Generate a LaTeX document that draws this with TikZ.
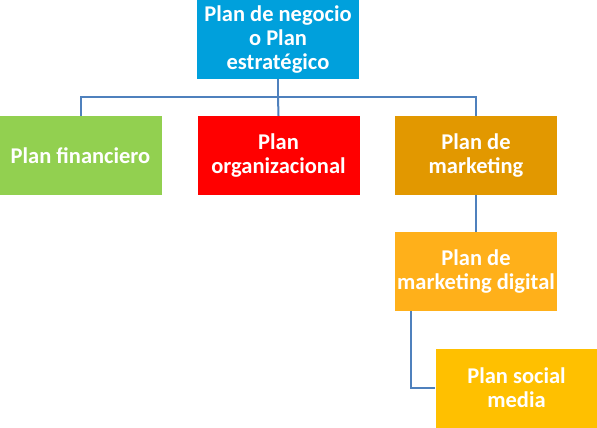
\documentclass[tikz,border=0pt]{standalone}
\usepackage{fontspec}
\setmainfont{Carlito}
\definecolor{topblue}{RGB}{0,160,220}
\definecolor{fingreen}{RGB}{146,208,80}
\definecolor{mktorange}{RGB}{226,152,0}
\definecolor{digorange}{RGB}{255,176,26}
\definecolor{socyellow}{RGB}{255,192,0}
\definecolor{linkblue}{RGB}{79,129,189}
\begin{document}
\begin{tikzpicture}[x=1pt,y=-1pt,
  box/.style={minimum width=162pt,minimum height=79pt,inner sep=0pt,align=center,text=white,
    font=\bfseries\fontsize{22.5}{24}\selectfont},
  link/.style={draw=linkblue,line width=2pt}]
\useasboundingbox(0,0)rectangle(597,428);
\def\r{155.5}
\node[box,fill=topblue](plan)at(278,39.5){Plan de negocio\\o Plan\\estratégico};
\node[box,fill=fingreen](fin)at(80.5,\r){Plan financiero};
\node[box,fill=red](org)at(278.5,\r){Plan\\organizacional};
\node[box,fill=mktorange](mkt)at(476,\r){Plan de\\marketing};
\node[box,fill=digorange](dig)at(476,271.5){Plan de\\marketing digital};
\node[box,fill=socyellow](social)at(516.5,388){Plan social\\media};
\draw[link](plan.south)--++(0,18)coordinate(bus);
\draw[link](fin.north)|-(bus)-|(mkt.north);
\draw[link](bus)--(org.north);
\draw[link](mkt.south)--(dig.north);
\draw[link]([xshift=16pt]dig.south west)|-(social.west);
\end{tikzpicture}
\end{document}
